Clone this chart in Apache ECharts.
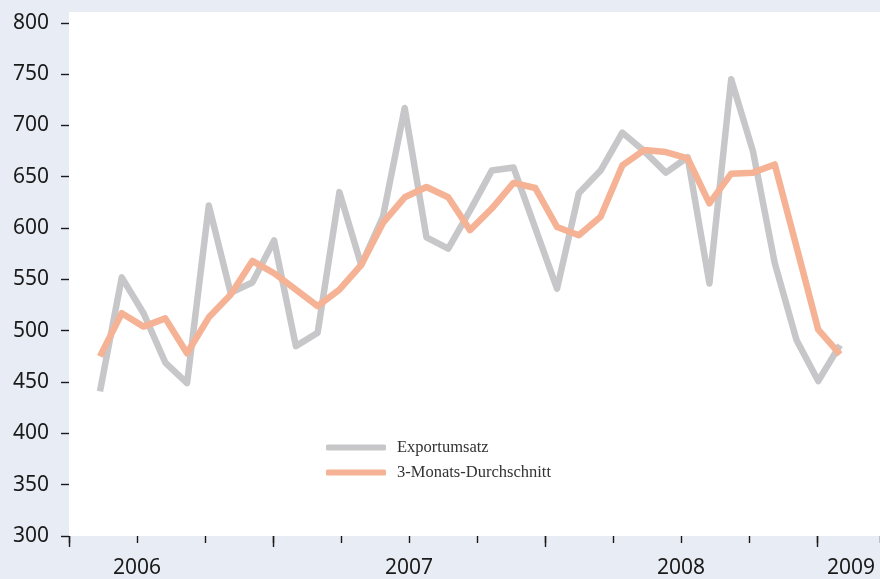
<!DOCTYPE html>
<html><head><meta charset="utf-8">
<script src="https://cdn.jsdelivr.net/npm/echarts@6/dist/echarts.min.js"></script>
<style>html,body{margin:0;padding:0;background:#e8ecf4;} #c{width:880px;height:579px;}</style>
</head><body><div id="c"></div>
<script>
const months = ['2006-01','2006-02','2006-03','2006-04','2006-05','2006-06','2006-07','2006-08','2006-09','2006-10','2006-11','2006-12',
  '2007-01','2007-02','2007-03','2007-04','2007-05','2007-06','2007-07','2007-08','2007-09','2007-10','2007-11','2007-12',
  '2008-01','2008-02','2008-03','2008-04','2008-05','2008-06','2008-07','2008-08','2008-09','2008-10','2008-11'];
const exportumsatz = [441,552,517,469,449,622,537,547,588,485,498,635,564,611,717,591,580,617,656,659,600,541,634,656,693,675,654,669,546,745,675,566,491,451,486];
const durchschnitt = [475,517,504,512,478,513,535,568,556,540,524,540,564,605,630,640,630,598,619,644,639,601,593,611,661,676,674,668,624,653,654,662,582,501,477];
const yTicks = [300,350,400,450,500,550,600,650,700,750,800];
const yearTicks = [1,4,8,12];
const yearLabels = ['2006','2007','2008','2009'];
const yearLabelPos = [2,6,10,12.5];

const chart = echarts.init(document.getElementById('c'), null, {renderer:'canvas'});
const labelFont = {fontFamily:'Noto Sans', fontSize:21, color:'#1a1a1a'};
const tickStyle = {color:'#1a1a1a', width:1.4};
const tickAxisBase = {type:'value', position:'bottom', min:1, max:12.926,
  axisLine:{show:false, onZero:false}, splitLine:{show:false}};
chart.setOption({
  animation:false,
  backgroundColor:'#e8ecf4',
  grid:{left:69, right:0, top:12, bottom:43, show:true, backgroundColor:'#ffffff', borderWidth:0},
  legend:{
    orient:'vertical', left:326, top:439, itemGap:8, padding:0,
    icon:'roundRect', itemWidth:60, itemHeight:6,
    textStyle:{fontFamily:'Liberation Serif', fontSize:16.5, color:'#333333', padding:[0,0,0,6]},
    data:['Exportumsatz','3-Monats-Durchschnitt']
  },
  xAxis:[
    {type:'value', position:'bottom', min:-1.424, max:35.838, show:false, axisLine:{onZero:false}},
    Object.assign({}, tickAxisBase, {
      axisTick:{show:true, length:11, lineStyle:tickStyle, customValues:yearTicks},
      axisLabel:{show:false}}),
    Object.assign({}, tickAxisBase, {interval:1,
      axisTick:{show:true, length:7, lineStyle:tickStyle},
      axisLabel:{show:false}}),
    Object.assign({}, tickAxisBase, {
      axisTick:{show:false},
      axisLabel:Object.assign({show:true, showMinLabel:true, showMaxLabel:true, margin:22, customValues:yearLabelPos,
        formatter:function(v){const i=yearLabelPos.indexOf(v);return i>=0?yearLabels[i]:'';}}, labelFont)})
  ],
  yAxis:{type:'value', min:300, max:810.5, axisLine:{show:false, onZero:false}, splitLine:{show:false},
    axisTick:{show:true, length:8, lineStyle:tickStyle, customValues:yTicks},
    axisLabel:Object.assign({margin:20, customValues:yTicks}, labelFont)},
  series:[
    {name:'Exportumsatz', type:'line', xAxisIndex:0, showSymbol:false, symbol:'none',
      color:'#c7c7c9', itemStyle:{color:'#c7c7c9'},
      lineStyle:{color:'#c7c7c9', width:6.5, join:'round', cap:'butt'},
      data:exportumsatz.map((v,i)=>[months.indexOf(months[i]), v])},
    {name:'3-Monats-Durchschnitt', type:'line', xAxisIndex:0, showSymbol:false, symbol:'none',
      color:'#f5b294', itemStyle:{color:'#f5b294'},
      lineStyle:{color:'#f5b294', width:6.5, join:'round', cap:'butt'},
      data:durchschnitt.map((v,i)=>[i, v])}
  ]
});
</script></body></html>
